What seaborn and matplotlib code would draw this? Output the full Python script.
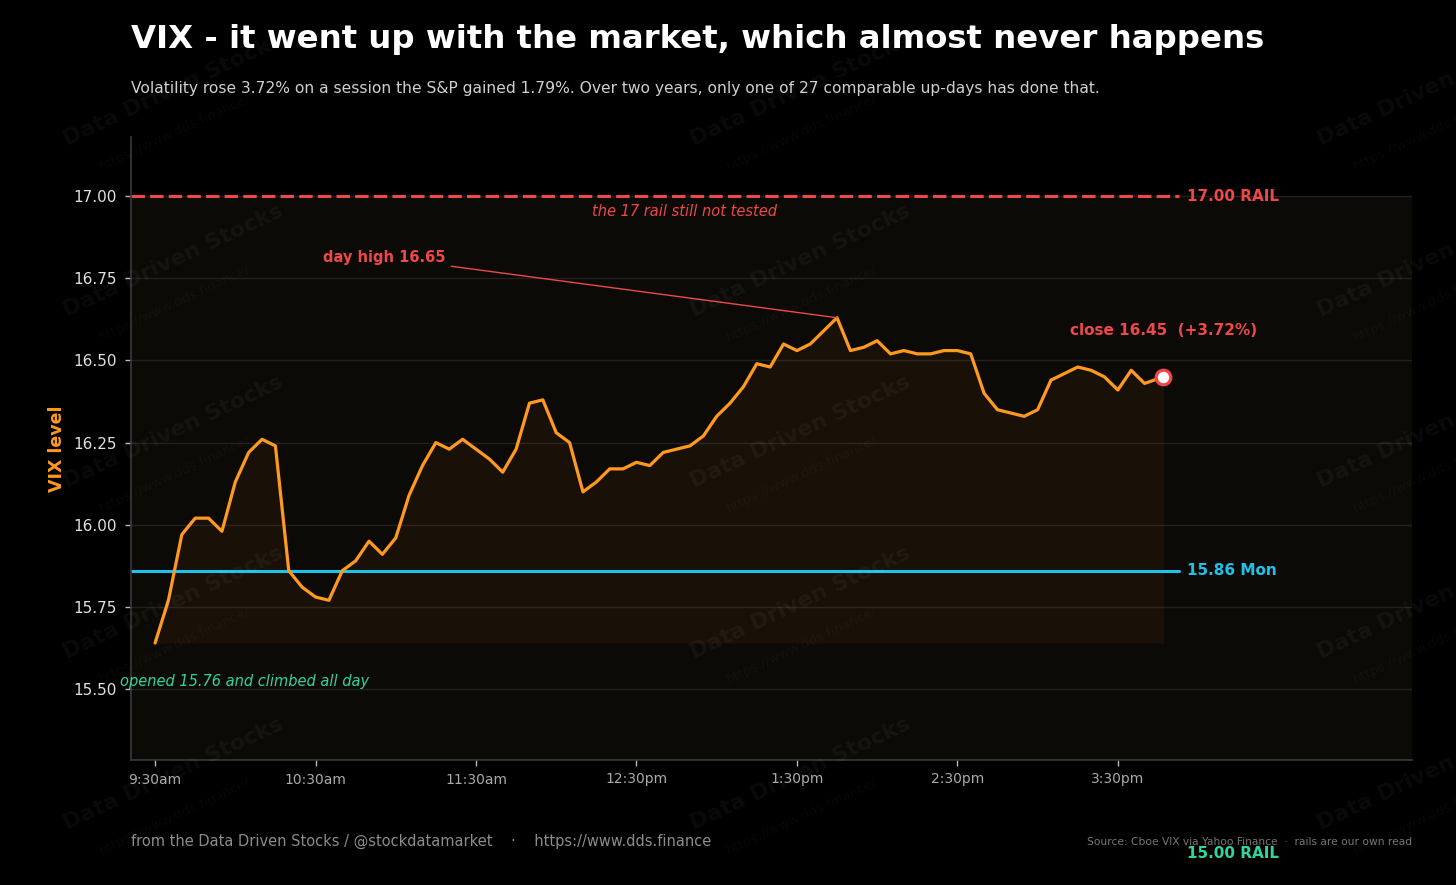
import numpy as np
import pandas as pd
import matplotlib
matplotlib.use("Agg")
import matplotlib.pyplot as plt
import seaborn as sns

# ---------------- data ----------------
vix = [15.64, 15.77, 15.97, 16.02, 16.02, 15.98, 16.13, 16.22, 16.26, 16.24,
       15.86, 15.81, 15.78, 15.77, 15.86, 15.89, 15.95, 15.91, 15.96, 16.09,
       16.18, 16.25, 16.23, 16.26, 16.23, 16.20, 16.16, 16.23, 16.37, 16.38,
       16.28, 16.25, 16.10, 16.13, 16.17, 16.17, 16.19, 16.18, 16.22, 16.23,
       16.24, 16.27, 16.33, 16.37, 16.42, 16.49, 16.48, 16.55, 16.53, 16.55,
       16.59, 16.63, 16.53, 16.54, 16.56, 16.52, 16.53, 16.52, 16.52, 16.53,
       16.53, 16.52, 16.40, 16.35, 16.34, 16.33, 16.35, 16.44, 16.46, 16.48,
       16.47, 16.45, 16.41, 16.47, 16.43, 16.45]
# minutes after 9:30: 5-minute bars, last print at 15:47
bar_minutes = list(np.arange(len(vix) - 1) * 5) + [377]
tick_minutes = [0, 60, 120, 180, 240, 300, 360]
tick_labels = ["9:30am", "10:30am", "11:30am", "12:30pm", "1:30pm", "2:30pm", "3:30pm"]
yticks = [15.50, 15.75, 16.00, 16.25, 16.50, 16.75, 17.00]
rail_top = 17.00
rail_bottom = 15.00
monday_close = 15.86
high_idx = 51
close_val = 16.45

title = "VIX - it went up with the market, which almost never happens"
subtitle = ("Volatility rose 3.72% on a session the S&P gained 1.79%. "
            "Over two years, only one of 27 comparable up-days has done that.")
footer_left = "from the Data Driven Stocks / @stockdatamarket    \u00b7    https://www.dds.finance"
footer_right = "Source: Cboe VIX via Yahoo Finance  \u00b7  rails are our own read"

df = pd.DataFrame({"minute": bar_minutes, "vix": vix})

# ---------------- style ----------------
sns.set_theme(style="dark")
plt.rcParams["font.family"] = ["DejaVu Sans"]

ORANGE = "#ff9a1f"
RED = "#ee4848"
CYAN = "#1fc3ea"
GREEN = "#2fd69a"

W, H = 1456, 885
fig = plt.figure(figsize=(W / 100, H / 100), dpi=100, facecolor="black")
ax = fig.add_axes([131 / W, 1 - 760 / H, (1412 - 131) / W, (760 - 137) / H])
ax.set_facecolor("black")

ylo, yhi = 15.284, 17.18
xlo, xhi = -9, 470
ax.set_xlim(xlo, xhi)
ax.set_ylim(ylo, yhi)

# band below the top rail
ax.axhspan(ylo, rail_top, color="#0c0a07", zorder=0, lw=0)

# grid
ax.set_yticks(yticks)
ax.set_yticklabels([f"{v:.2f}" for v in yticks])
ax.yaxis.grid(True, color="#232120", lw=1, zorder=0.5)
ax.xaxis.grid(False)
ax.set_xticks(tick_minutes)
ax.set_xticklabels(tick_labels)

# fill under the line
ax.fill_between(df["minute"], df["vix"], df["vix"].min(), color=ORANGE,
                alpha=0.055, lw=0, zorder=1)

# rails
last_t = bar_minutes[-1]
line_end = last_t + 6
ax.plot([xlo, line_end], [rail_top, rail_top], color=RED, lw=2.2,
        ls=(0, (4.4, 1.7)), zorder=2)
ax.plot([xlo, line_end], [monday_close, monday_close], color=CYAN, lw=2.2, zorder=2)
ax.plot([xlo, line_end], [rail_bottom, rail_bottom], color=GREEN, lw=2.2,
        ls=(0, (4.4, 1.7)), zorder=2)

# VIX line
sns.lineplot(data=df, x="minute", y="vix", color=ORANGE, lw=2.3, ax=ax, zorder=3)

# close marker
ax.plot([last_t], [close_val], marker="o", ms=10.5, mfc="white",
        mec=RED, mew=2.3, zorder=5, ls="none")

# labels on rails
lab_x = last_t + 9
ax.text(lab_x, rail_top, "17.00 RAIL", color=RED, fontsize=11, fontweight="bold",
        va="center", ha="left")
ax.text(lab_x, monday_close, "15.86 Mon", color=CYAN, fontsize=11, fontweight="bold",
        va="center", ha="left")
ax.text(lab_x, rail_bottom, "15.00 RAIL", color=GREEN, fontsize=11, fontweight="bold",
        va="center", ha="left", clip_on=False)

ax.text(198, 16.954, "the 17 rail still not tested", color=RED, fontsize=10.5,
        style="italic", ha="center", va="center")
ax.text(33.3, 15.524, "opened 15.76 and climbed all day", color=GREEN, fontsize=10.5,
        style="italic", ha="center", va="center")

ax.annotate("day high 16.65", xy=(bar_minutes[high_idx], vix[high_idx]),
            xytext=(85.6, 16.814), color=RED, fontsize=10.5, fontweight="bold",
            ha="center", va="center",
            arrowprops=dict(arrowstyle="-", color=RED, lw=1, shrinkA=2, shrinkB=0))
ax.text(377, 16.592, "close 16.45  (+3.72%)", color=RED, fontsize=11,
        fontweight="bold", ha="center", va="center")

# axes cosmetics
for s in ["top", "right"]:
    ax.spines[s].set_visible(False)
for s in ["left", "bottom"]:
    ax.spines[s].set_visible(True)
    ax.spines[s].set_color("#3a3a3a")
    ax.spines[s].set_linewidth(1.2)
ax.tick_params(axis="y", colors="#e0e0e0", labelsize=11, length=4, width=1,
               left=True, color="#bbbbbb", pad=6)
ax.tick_params(axis="x", colors="#aaaaaa", labelsize=10, length=4, width=1,
               bottom=True, color="#bbbbbb", pad=5)
ax.tick_params(axis="x", labelcolor="#aaaaaa")
ax.tick_params(axis="y", labelcolor="#e0e0e0")
ax.set_xlabel("")
ax.set_ylabel("VIX level", color=ORANGE, fontsize=12.5, fontweight="bold")
ax.yaxis.label.set_va("center")
ax.yaxis.set_label_coords((57 - 131) / (1412 - 131), 0.5)

# titles & footers
fig.text(131 / W, 1 - 48 / H, title, color="white", fontsize=23.3,
         fontweight="bold", ha="left", va="baseline")
fig.text(131 / W, 1 - 93.5 / H, subtitle, color="#cfcfcf", fontsize=11.15,
         ha="left", va="baseline")
fig.text(131 / W, 1 - 841 / H, footer_left, color="#8c8c8c", fontsize=10.5,
         ha="left", va="center")
fig.text(1412 / W, 1 - 842 / H, footer_right, color="#777777", fontsize=7.65,
         ha="right", va="center")

# watermarks
for cx in [173, 800, 1427]:
    for cy in [90, 261, 432, 603, 774]:
        fig.text(cx / W, 1 - cy / H, "Data Driven Stocks", color="white",
                 alpha=0.045, fontsize=16, fontweight="bold", rotation=25,
                 ha="center", va="center", zorder=10)
        fig.text((cx + 2) / W, 1 - (cy + 42) / H, "https://www.dds.finance/",
                 color="white", alpha=0.035, fontsize=9.5, rotation=25,
                 ha="center", va="center", zorder=10)

fig.savefig("out.png", dpi=100, facecolor="black")
